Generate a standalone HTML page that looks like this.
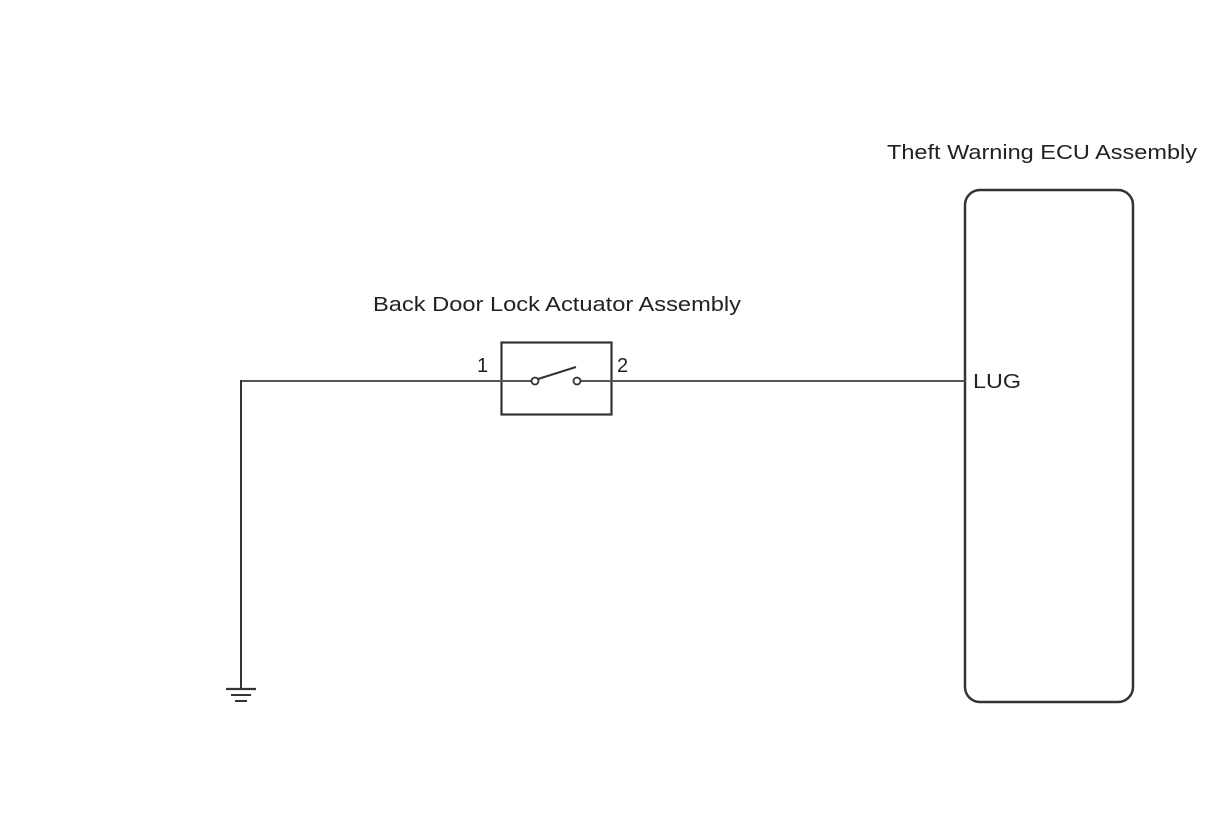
<!DOCTYPE html>
<html><head><style>html,body{margin:0;padding:0;background:#fff;}</style></head>
<body>
<svg width="1210" height="814" viewBox="0 0 1210 814" xmlns="http://www.w3.org/2000/svg" style="display:block">
<g font-family="Liberation Sans, Arial, sans-serif" font-size="20" fill="#222">
<text x="887" y="159" textLength="310" lengthAdjust="spacingAndGlyphs">Theft Warning ECU Assembly</text>
<text x="373" y="311" textLength="368" lengthAdjust="spacingAndGlyphs">Back Door Lock Actuator Assembly</text>
<text x="477" y="372">1</text>
<text x="617" y="372">2</text>
<text x="973" y="388" textLength="48" lengthAdjust="spacingAndGlyphs">LUG</text>
</g>
<g stroke="#333" fill="none">
<rect x="965" y="190" width="168" height="512" rx="15" stroke-width="2.5"/>
<rect x="501.5" y="342.5" width="110" height="72" stroke-width="2.2"/>
<line x1="241" y1="381" x2="535" y2="381" stroke-width="2" stroke="#555"/>
<line x1="580" y1="381" x2="965" y2="381" stroke-width="2" stroke="#555"/>
<circle cx="535" cy="381" r="3.5" stroke-width="1.8" fill="#fff"/>
<circle cx="577" cy="381" r="3.5" stroke-width="1.8" fill="#fff"/>
<line x1="538" y1="379" x2="576" y2="367" stroke-width="2"/>
<line x1="241" y1="380" x2="241" y2="689" stroke-width="2"/>
<line x1="226" y1="689" x2="256" y2="689" stroke-width="2.2"/>
<line x1="231" y1="695" x2="251" y2="695" stroke-width="2"/>
<line x1="235" y1="701" x2="247" y2="701" stroke-width="2"/>
</g>
</svg>
</body></html>
